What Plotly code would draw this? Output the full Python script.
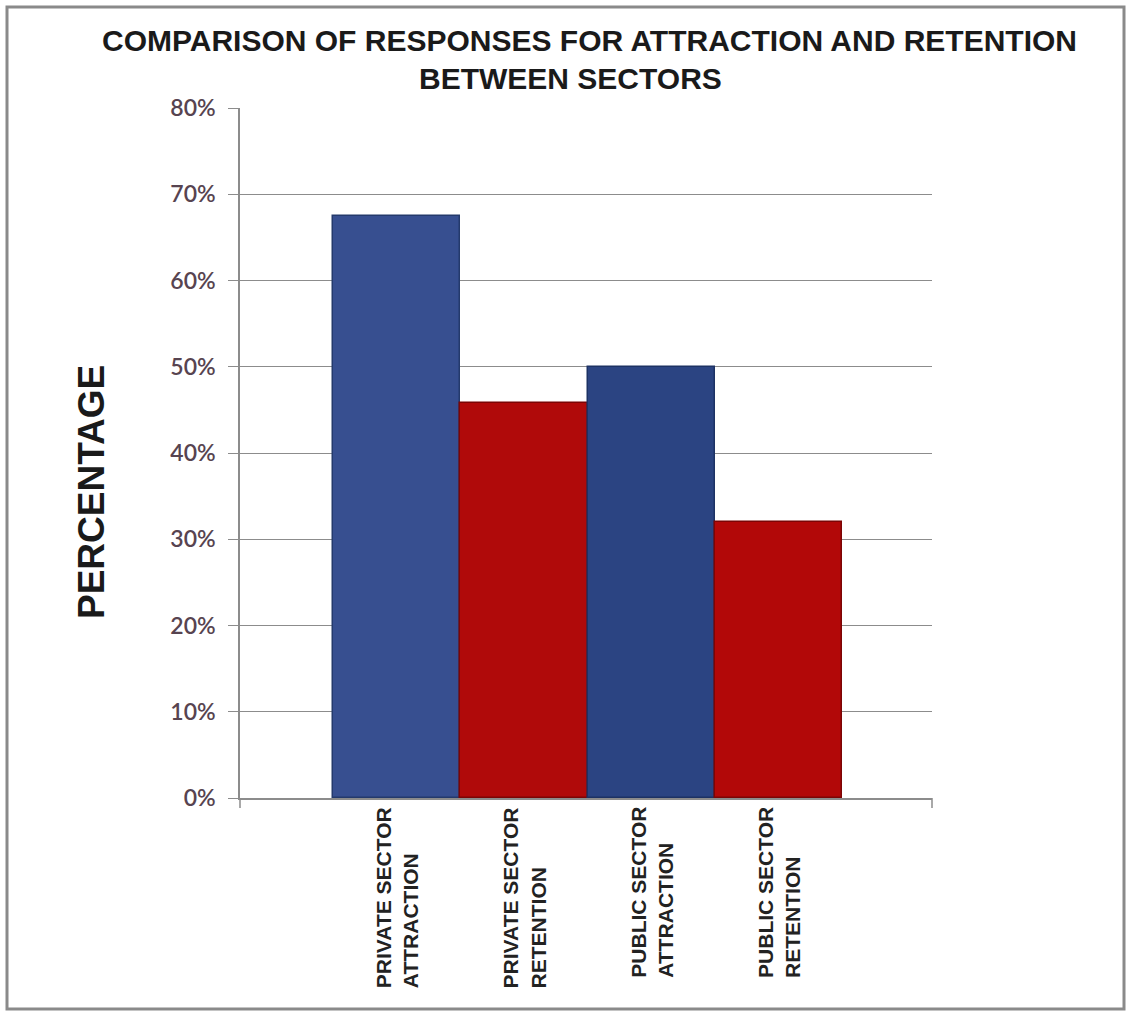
import plotly.graph_objects as go

# Survey results: share of respondents by sector and topic
categories = [
    "PRIVATE SECTOR<br>ATTRACTION",
    "PRIVATE SECTOR<br>RETENTION",
    "PUBLIC SECTOR<br>ATTRACTION",
    "PUBLIC SECTOR<br>RETENTION",
]
percentages = [67.5, 45.8, 50.0, 32.0]
bar_colors = ["#374f90", "#b00a0a", "#2b4482", "#b20808"]
edge_colors = ["#243a6c", "#7c0505", "#1d3264", "#7c0505"]
y_ticks = [0, 10, 20, 30, 40, 50, 60, 70, 80]
y_tick_text = [f"{v}%" for v in y_ticks]

title_line1 = "COMPARISON OF RESPONSES FOR ATTRACTION AND RETENTION"
title_line2 = "BETWEEN SECTORS"
y_title = "PERCENTAGE"

W, H = 1130, 1014
L, R, T, B = 240, 198, 108, 216
plot_w = W - L - R
plot_h = H - T - B


def px_x(px):
    return (px - L) / plot_w


def px_y(py):
    return (H - B - py) / plot_h


fig = go.Figure(
    go.Bar(
        x=list(range(len(categories))),
        y=percentages,
        marker=dict(color=bar_colors, line=dict(color=edge_colors, width=1.5)),
        width=1.0,
        hoverinfo="skip",
    )
)

grid = "#8c8c8c"
fig.update_layout(
    width=W,
    height=H,
    margin=dict(l=L, r=R, t=T, b=B, pad=0),
    paper_bgcolor="white",
    plot_bgcolor="white",
    showlegend=False,
    bargap=0,
    xaxis=dict(
        range=[-1.231, 4.207],
        showticklabels=False,
        ticks="",
        showgrid=False,
        zeroline=False,
        showline=True,
        linecolor=grid,
        linewidth=1.5,
        fixedrange=True,
    ),
    yaxis=dict(
        range=[0, 80],
        tickvals=y_ticks,
        ticktext=y_tick_text,
        ticks="outside",
        ticklen=10,
        tickcolor=grid,
        tickwidth=1.2,
        showline=True,
        linecolor=grid,
        linewidth=1.5,
        showgrid=True,
        gridcolor=grid,
        gridwidth=1.2,
        zeroline=False,
        tickfont=dict(family="Lato, DejaVu Sans, sans-serif", size=23, color="#574450", weight=600),
        ticklabelstandoff=8,
        fixedrange=True,
    ),
)

annotations = [
    dict(
        text=f"<b>{title_line1}</b>",
        xref="paper", yref="paper",
        x=px_x(589), y=px_y(41),
        xanchor="center", yanchor="middle",
        showarrow=False,
        font=dict(family="Liberation Sans, Arial, sans-serif", size=30, color="#1a1a1a"),
    ),
    dict(
        text=f"<b>{title_line2}</b>",
        xref="paper", yref="paper",
        x=px_x(570), y=px_y(79),
        xanchor="center", yanchor="middle",
        showarrow=False,
        font=dict(family="Liberation Sans, Arial, sans-serif", size=30, color="#1a1a1a"),
    ),
    dict(
        text=f"<b>{y_title}</b>",
        xref="paper", yref="paper",
        x=px_x(91), y=px_y(492),
        xanchor="center", yanchor="middle",
        textangle=-90,
        showarrow=False,
        font=dict(family="Liberation Sans, Arial, sans-serif", size=37, color="#1a1a1a"),
    ),
]

# Category labels, rotated and anchored just below the axis
for i, label in enumerate(categories):
    annotations.append(
        dict(
            text=f"<b>{label}</b>",
            x=i, xref="x",
            y=0, yref="y",
            yshift=-7,
            xanchor="center", yanchor="top",
            textangle=-90,
            align="left",
            showarrow=False,
            font=dict(family="Liberation Sans, Arial, sans-serif", size=21, color="#222222"),
        )
    )

fig.update_layout(annotations=annotations)

shapes = [
    # outer chart frame
    dict(
        type="rect", xref="paper", yref="paper",
        x0=px_x(7), x1=px_x(1124), y0=px_y(1009), y1=px_y(7),
        line=dict(color="#8a8a8a", width=3),
        fillcolor="rgba(0,0,0,0)",
        layer="below",
    ),
    # end tick marks of the category axis
    dict(
        type="line", xref="paper", yref="paper",
        x0=1, x1=1, y0=0, y1=px_y(808),
        line=dict(color=grid, width=1.5),
    ),
    dict(
        type="line", xref="paper", yref="paper",
        x0=0, x1=0, y0=0, y1=px_y(808),
        line=dict(color=grid, width=1.5),
    ),
]
fig.update_layout(shapes=shapes)

fig.write_html("out.html")
